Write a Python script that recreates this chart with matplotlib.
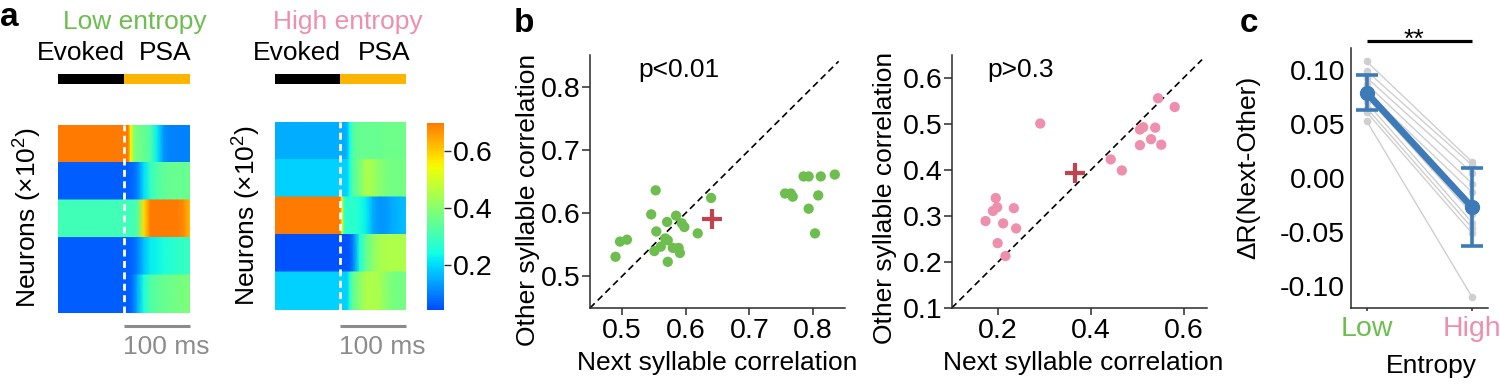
import numpy as np
import matplotlib
matplotlib.use('Agg')
import matplotlib.pyplot as plt
from matplotlib.colors import ListedColormap
from matplotlib.patches import Rectangle
import matplotlib.transforms as mtransforms
from matplotlib.ticker import FormatStrFormatter

plt.rcParams['font.family'] = ['Liberation Sans', 'DejaVu Sans']
plt.rcParams['mathtext.fontset'] = 'custom'
plt.rcParams['mathtext.rm'] = 'Liberation Sans'
plt.rcParams['mathtext.it'] = 'Liberation Sans:italic'
plt.rcParams['mathtext.bf'] = 'Liberation Sans:bold'

# ---------------- data ----------------
# panel a: mean activity per neuron group (5 bands) at time knots (ms, 0 = PSA onset)
time_ms = [-100, 0, 3, 6, 10, 15, 20, 30, 40, 50, 60, 70, 80, 90, 100]
low_band1 = [.70, .70, .70, .70, .55, .40, .37, .35, .32, .22, .12, .10, .10, .10, .10]
low_band2 = [.06, .06, .06, .06, .07, .08, .10, .20, .28, .32, .34, .35, .35, .35, .35]
low_band3 = [.30, .30, .30, .30, .30, .31, .32, .58, .70, .70, .70, .70, .70, .68, .62]
low_band4 = [.06, .06, .06, .06, .07, .08, .10, .17, .22, .23, .25, .26, .27, .28, .28]
low_band5 = [.06, .06, .06, .06, .07, .10, .15, .25, .32, .34, .35, .36, .37, .38, .38]
high_band1 = [.15, .15, .15, .15, .16, .24, .33, .35, .35, .35, .35, .36, .36, .36, .36]
high_band2 = [.19, .19, .19, .19, .19, .25, .33, .38, .45, .43, .40, .38, .37, .37, .37]
high_band3 = [.70, .70, .55, .30, .26, .27, .27, .25, .22, .15, .12, .13, .15, .16, .17]
high_band4 = [.05, .05, .05, .05, .05, .06, .10, .25, .35, .40, .44, .45, .45, .45, .45]
high_band5 = [.19, .19, .19, .19, .19, .27, .35, .40, .45, .45, .44, .40, .38, .37, .37]
cbar_ticks = [0.2, 0.4, 0.6]

# panel b: low entropy
low_next = [0.553, 0.640, 0.546, 0.585, 0.571, 0.594, 0.598, 0.619, 0.554, 0.568,
            0.572, 0.508, 0.497, 0.490, 0.561, 0.551, 0.580, 0.589, 0.591, 0.572,
            0.785, 0.793, 0.812, 0.834, 0.756, 0.765, 0.768, 0.808, 0.793, 0.803]
low_other = [0.636, 0.624, 0.598, 0.596, 0.586, 0.584, 0.578, 0.568, 0.571, 0.560,
             0.557, 0.558, 0.555, 0.531, 0.547, 0.540, 0.545, 0.545, 0.537, 0.523,
             0.658, 0.658, 0.658, 0.661, 0.631, 0.631, 0.626, 0.628, 0.607, 0.568]
low_mean = [0.642, 0.590]
# panel b: high entropy
high_next = [0.173, 0.189, 0.198, 0.195, 0.211, 0.199, 0.216, 0.234, 0.239, 0.291,
             0.443, 0.467, 0.506, 0.513, 0.506, 0.530, 0.539, 0.552, 0.545, 0.581]
high_other = [0.289, 0.311, 0.319, 0.339, 0.284, 0.241, 0.213, 0.317, 0.273, 0.501,
              0.423, 0.399, 0.488, 0.493, 0.454, 0.467, 0.492, 0.455, 0.556, 0.537]
high_mean = [0.366, 0.393]

# panel c
entropy_labels = ['Low', 'High']
dr_low = [0.108, 0.099, 0.093, 0.087, 0.080, 0.075, 0.070, 0.065, 0.061, 0.053]
dr_high = [0.015, 0.012, 0.005, -0.005, -0.013, -0.033, -0.041, -0.046, -0.051, -0.110]
dr_mean = [0.079, -0.027]
dr_err = [0.016, 0.036]

# ---------------- style ----------------
GREEN = '#6dbe4f'
PINK = '#ee8fad'
RED = '#c2434d'
BLUE = '#3d7ab8'
GRAYDOT = '#cfcfcf'
SPINE = '#2a2a2a'
FS = 19
TFS = 20.5

W, H = 1500, 385
fig = plt.figure(figsize=(15, 3.85), dpi=100)


def add_ax(l, t, r, b):
    return fig.add_axes([l / W, 1 - b / H, (r - l) / W, (b - t) / H])


def fy(py):
    return 1 - py / H


cmap = ListedColormap(plt.cm.jet(np.linspace(0.2, 0.78, 256)))
VMIN, VMAX = 0.04, 0.70


def draw_heat(ax, bands, title, tcolor, title_x, psa_x):
    t = np.array(time_ms, float)
    m = None
    for i, vals in enumerate(bands):
        v = np.array(vals, float)
        X = np.vstack([t, t])
        Y = np.vstack([np.full_like(t, i), np.full_like(t, i + 1)])
        C = np.vstack([v, v])
        m = ax.pcolormesh(X, Y, C, shading='gouraud', cmap=cmap, vmin=VMIN, vmax=VMAX,
                          rasterized=True)
    ax.set_xlim(-100, 100)
    ax.set_ylim(len(bands), 0)
    ax.axis('off')
    ax.axvline(0, color='white', lw=2.0, ls=(0, (2.5, 1.6)))
    tr = mtransforms.blended_transform_factory(ax.transData, fig.transFigure)
    # event bars
    ax.add_patch(Rectangle((-100, fy(84)), 100, 10 / H, transform=tr, color='black',
                           clip_on=False, lw=0))
    ax.add_patch(Rectangle((0, fy(84)), 100, 10 / H, transform=tr, color='#ffb400',
                           clip_on=False, lw=0))
    ax.text(1, fy(53), 'Evoked', transform=tr, ha='right', va='center', fontsize=FS)
    ax.text(psa_x, fy(53), 'PSA', transform=tr, ha='left', va='center', fontsize=FS)
    ax.text(title_x, fy(22), title, transform=tr, ha='center', va='center', fontsize=FS,
            color=tcolor)
    # scale bar
    ax.plot([0, 100], [fy(326), fy(326)], transform=tr, color='#8c8c8c', lw=2.2,
            clip_on=False, solid_capstyle='butt')
    ax.text(-2, fy(347), '100 ms', transform=tr, ha='left', va='center', fontsize=FS,
            color='#8c8c8c')
    return m


axL = add_ax(58.3, 125, 190, 312.5)
draw_heat(axL, [low_band1, low_band2, low_band3, low_band4, low_band5],
          'Low entropy', GREEN, 16, 22)
axR = add_ax(275, 122, 405.5, 309.5)
mesh = draw_heat(axR, [high_band1, high_band2, high_band3, high_band4, high_band5],
                 'High entropy', PINK, 11, 27)

fig.text(28 / W, fy(217), r'Neurons (×10$^2$)', rotation=90, ha='center', va='center',
         fontsize=FS)
fig.text(247 / W, fy(215), r'Neurons (×10$^2$)', rotation=90, ha='center', va='center',
         fontsize=FS)

cax = add_ax(427, 122.7, 444, 310)
cb = fig.colorbar(mesh, cax=cax, ticks=cbar_ticks)
cb.outline.set_visible(False)
cax.tick_params(labelsize=TFS, length=5, width=1, pad=1.5, color=SPINE)
cax.yaxis.set_major_formatter(FormatStrFormatter('%.1f'))


def style_ax(ax, ylen=5.5, xlen=5.0):
    for s in ['top', 'right']:
        ax.spines[s].set_visible(False)
    for s in ['left', 'bottom']:
        ax.spines[s].set_color(SPINE)
        ax.spines[s].set_linewidth(1.1)
    ax.tick_params(axis='both', labelsize=TFS, direction='out', width=1.1, color=SPINE)
    ax.tick_params(axis='y', length=ylen, pad=1.2)
    ax.tick_params(axis='x', length=xlen, pad=2.0)


# ---- panel b left ----
axB1 = add_ax(590, 55, 845, 308)
axB1.plot([0.45, 0.84], [0.45, 0.84], color='black', lw=1.2, ls=(0, (4, 2.5)), zorder=1)
axB1.scatter(low_next, low_other, s=55, color=GREEN, edgecolors='none', zorder=2)
axB1.plot([low_mean[0]], [low_mean[1]], marker='+', ms=15, mew=3, color=RED, zorder=3)
axB1.set_xlim(0.45, 0.85)
axB1.set_ylim(0.45, 0.85)
axB1.set_xticks([0.5, 0.6, 0.7, 0.8])
axB1.set_yticks([0.5, 0.6, 0.7, 0.8])
style_ax(axB1)
axB1.set_xlabel('Next syllable correlation', fontsize=FS)
axB1.set_ylabel('Other syllable correlation', fontsize=FS)
axB1.xaxis.set_label_coords(0.5, -0.17)
axB1.yaxis.set_label_coords(-0.195, 0.427)
axB1.text(0.35, 0.94, 'p<0.01', transform=axB1.transAxes, ha='center', va='center',
          fontsize=FS)

# ---- panel b right ----
axB2 = add_ax(951.7, 55, 1206.7, 308)
axB2.plot([0.1, 0.64], [0.1, 0.64], color='black', lw=1.2, ls=(0, (4, 2.5)), zorder=1)
axB2.scatter(high_next, high_other, s=55, color=PINK, edgecolors='none', zorder=2)
axB2.plot([high_mean[0]], [high_mean[1]], marker='+', ms=15, mew=3, color=RED, zorder=3)
axB2.set_xlim(0.1, 0.65)
axB2.set_ylim(0.1, 0.65)
axB2.set_xticks([0.2, 0.4, 0.6])
axB2.set_yticks([0.1, 0.2, 0.3, 0.4, 0.5, 0.6])
style_ax(axB2)
axB2.set_xlabel('Next syllable correlation', fontsize=FS)
axB2.set_ylabel('Other syllable correlation', fontsize=FS)
axB2.xaxis.set_label_coords(0.515, -0.17)
axB2.yaxis.set_label_coords(-0.215, 0.435)
axB2.text(0.27, 0.94, 'p>0.3', transform=axB2.transAxes, ha='center', va='center',
          fontsize=FS)

# ---- panel c ----
axC = add_ax(1350.7, 48.3, 1488, 308)
xpos = np.arange(len(entropy_labels))
for a, b in zip(dr_low, dr_high):
    axC.plot(xpos, [a, b], color=GRAYDOT, lw=1.0, marker='o', ms=5.5, mec='none',
             zorder=1)
axC.errorbar(xpos, dr_mean, yerr=dr_err, color=BLUE, lw=4.8, marker='o', ms=10,
             capsize=8, capthick=2.6, elinewidth=2.6, zorder=3)
axC.set_xlim(-0.15, 1.15)
axC.set_ylim(-0.12, 0.12)
axC.set_xticks(xpos)
axC.set_xticklabels(entropy_labels)
axC.set_yticks([-0.10, -0.05, 0.0, 0.05, 0.10])
axC.yaxis.set_major_formatter(FormatStrFormatter('%.2f'))
style_ax(axC)
axC.tick_params(axis='y', length=0, pad=4)
axC.tick_params(axis='x', length=2.5, pad=3)
for lab, c in zip(axC.get_xticklabels(), [GREEN, PINK]):
    lab.set_color(c)
axC.set_xlabel('Entropy', fontsize=FS)
axC.set_ylabel('ΔR(Next-Other)', fontsize=FS)
axC.xaxis.set_label_coords(0.59, -0.177)
axC.yaxis.set_label_coords(-0.66, 0.54)
trC = mtransforms.blended_transform_factory(axC.transData, fig.transFigure)
axC.plot([0, 1], [fy(40.7), fy(40.7)], transform=trC, color='black', lw=2.3,
         clip_on=False, solid_capstyle='butt')
axC.text(0.45, fy(47), '**', transform=trC, ha='center', va='baseline', fontsize=FS)

# ---- panel letters ----
for letter, x, yb in [('a', 0, 26), ('b', 514, 32), ('c', 1240, 32)]:
    fig.text(x / W, fy(yb), letter, fontsize=24, fontweight='bold', ha='left',
             va='baseline')

fig.savefig('out.png', dpi=100)
